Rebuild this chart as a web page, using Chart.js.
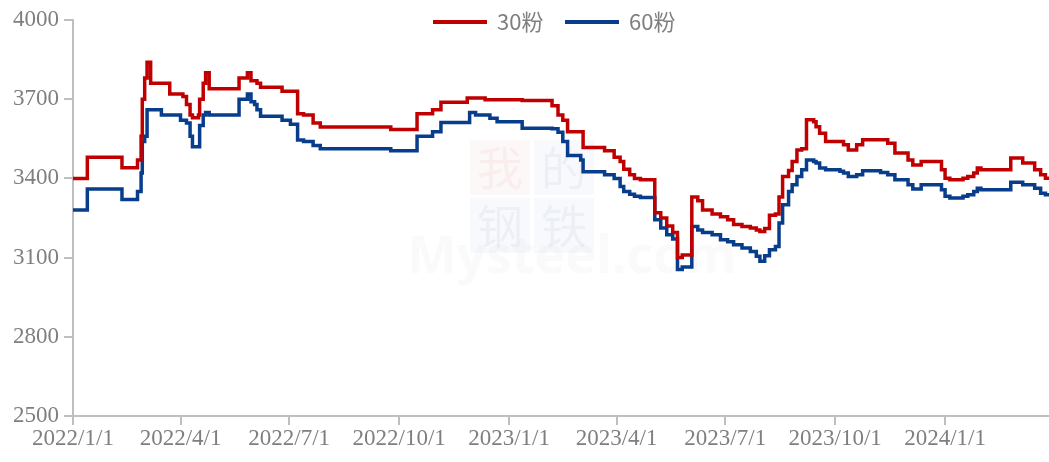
<!DOCTYPE html>
<html>
<head>
<meta charset="utf-8">
<script src="https://cdn.jsdelivr.net/npm/chart.js@4"></script>
<style>
  html, body { margin: 0; padding: 0; background: #fff; }
  #wrap { width: 1049px; height: 462px; position: relative; }
</style>
</head>
<body>
<div id="wrap"><canvas id="myChart"></canvas></div>
<script>
// dates where the price changes (value holds until next date)
const dates = [
  '2022-01-01','2022-01-13','2022-02-11','2022-02-24','2022-02-27','2022-02-28','2022-03-02','2022-03-04','2022-03-07','2022-03-16',
  '2022-03-23','2022-04-01','2022-04-03','2022-04-06','2022-04-09','2022-04-11','2022-04-16','2022-04-17','2022-04-20','2022-04-22',
  '2022-04-25','2022-05-20','2022-05-27','2022-05-30','2022-06-02','2022-06-04','2022-06-07','2022-06-25','2022-07-02','2022-07-08',
  '2022-07-13','2022-07-21','2022-07-27','2022-09-24','2022-10-16','2022-10-29','2022-11-05','2022-11-27','2022-11-29','2022-12-04',
  '2022-12-12','2022-12-16','2022-12-22','2023-01-12','2023-02-06','2023-02-11','2023-02-15','2023-02-19','2023-03-02','2023-03-04',
  '2023-03-22','2023-03-30','2023-04-04','2023-04-07','2023-04-12','2023-04-16','2023-04-21','2023-05-03','2023-05-08','2023-05-13',
  '2023-05-18','2023-05-22','2023-05-26','2023-06-03','2023-06-08','2023-06-12','2023-06-20','2023-06-27','2023-07-03','2023-07-08',
  '2023-07-15','2023-07-22','2023-07-27','2023-07-30','2023-08-03','2023-08-07','2023-08-12','2023-08-15','2023-08-18','2023-08-23',
  '2023-08-26','2023-08-30','2023-09-03','2023-09-07','2023-09-13','2023-09-15','2023-09-18','2023-09-23','2023-10-05','2023-10-08',
  '2023-10-12','2023-10-19','2023-10-24','2023-11-08','2023-11-14','2023-11-20','2023-12-01','2023-12-05','2023-12-12','2023-12-26',
  '2023-12-29','2024-01-01','2024-01-05','2024-01-16','2024-01-20','2024-01-25','2024-01-28','2024-01-31','2024-02-25','2024-03-06',
  '2024-03-16','2024-03-21','2024-03-25','2024-03-28'
]

const fen30 = [
  3400,3480,3440,3470,3560,3700,3780,3840,3760,3760,
  3720,3720,3710,3680,3640,3630,3640,3700,3760,3800,
  3740,3780,3800,3770,3770,3760,3745,3730,3730,3645,
  3640,3610,3595,3585,3645,3660,3688,3705,3705,3705,
  3698,3698,3698,3695,3675,3640,3620,3577,3577,3517,
  3505,3480,3464,3435,3414,3400,3395,3270,3250,3220,
  3195,3100,3110,3330,3315,3280,3265,3255,3243,3225,
  3218,3212,3205,3199,3210,3260,3265,3330,3407,3430,
  3464,3508,3512,3622,3615,3596,3571,3540,3540,3527,
  3508,3527,3546,3546,3533,3496,3470,3451,3464,3464,
  3433,3401,3395,3401,3407,3420,3439,3433,3477,3458,
  3433,3414,3401,3401
]

const fen60 = [
  3280,3360,3320,3350,3420,3540,3560,3660,3660,3640,
  3640,3620,3620,3610,3560,3520,3520,3600,3640,3650,
  3640,3700,3720,3690,3680,3660,3635,3620,3605,3545,
  3540,3525,3512,3505,3560,3577,3612,3612,3650,3640,
  3640,3628,3615,3590,3588,3575,3540,3487,3470,3425,
  3414,3400,3369,3350,3340,3332,3328,3243,3212,3187,
  3170,3055,3064,3218,3205,3195,3187,3168,3160,3149,
  3136,3123,3105,3086,3107,3130,3142,3231,3300,3350,
  3376,3407,3433,3470,3464,3458,3439,3433,3427,3420,
  3407,3414,3429,3422,3414,3395,3376,3360,3376,3376,
  3357,3332,3326,3332,3338,3350,3363,3357,3385,3376,
  3363,3344,3338,3338
]

const xTicks = ['2022-01-01','2022-04-01','2022-07-01','2022-10-01','2023-01-01','2023-04-01','2023-07-01','2023-10-01','2024-01-01']
const yTicks = [2500, 2800, 3100, 3400, 3700, 4000]

const DAY = 86400000
const base = Date.UTC(2022, 0, 1)
function dayOf(s){
  let p = s.split('-').map(Number)
  return (Date.UTC(p[0], p[1]-1, p[2]) - base) / DAY
}
function labelOf(d){
  let dt = new Date(base + d*DAY)
  return dt.getUTCFullYear() + '/' + (dt.getUTCMonth()+1) + '/' + dt.getUTCDate()
}

const xs = dates.map(dayOf)
const gray = '#7f7f7f'
const axisGray = '#bfbfbf'
const tickFont = { family: '"Liberation Serif", "Times New Roman", serif', size: 23 }

// legend drawn by hand, it sits on top of the plot area
const topLegend = {
  id: 'topLegend',
  afterDraw(chart){
    const ctx = chart.ctx
    const items = [
      { x: 433, color: chart.data.datasets[0].borderColor, text: chart.data.datasets[0].label },
      { x: 565, color: chart.data.datasets[1].borderColor, text: chart.data.datasets[1].label }
    ]
    ctx.save()
    ctx.font = '22px "Noto Sans CJK SC", "Noto Sans", sans-serif'
    ctx.textBaseline = 'middle'
    for(let it of items){
      ctx.strokeStyle = it.color
      ctx.lineWidth = 4
      ctx.beginPath()
      ctx.moveTo(it.x, 22)
      ctx.lineTo(it.x + 54, 22)
      ctx.stroke()
      ctx.fillStyle = gray
      ctx.fillText(it.text, it.x + 64, 22)
    }
    ctx.restore()
  }
}

// faint site watermark behind the lines
const watermark = {
  id: 'watermark',
  beforeDatasetsDraw(chart){
    const ctx = chart.ctx
    ctx.save()
    ctx.textAlign = 'center'
    ctx.textBaseline = 'middle'
    ctx.fillStyle = 'rgba(200, 60, 60, 0.035)'
    ctx.fillRect(470, 140, 60, 55)
    ctx.fillStyle = 'rgba(60, 90, 160, 0.035)'
    ctx.fillRect(534, 140, 60, 55)
    ctx.fillRect(470, 198, 60, 55)
    ctx.fillRect(534, 198, 60, 55)
    ctx.font = '46px "Noto Sans CJK SC", serif'
    ctx.fillStyle = 'rgba(200, 60, 60, 0.06)'
    ctx.fillText('我', 500, 168)
    ctx.fillStyle = 'rgba(60, 90, 160, 0.06)'
    ctx.fillText('的', 564, 168)
    ctx.fillText('钢', 500, 226)
    ctx.fillText('铁', 564, 226)
    ctx.font = 'bold 52px "Open Sans", sans-serif'
    ctx.fillStyle = 'rgba(150, 150, 150, 0.05)'
    ctx.fillText('Mysteel.com', 572, 258)
    ctx.restore()
  }
}

const ctx = document.getElementById('myChart').getContext('2d')
const myChart = new Chart(ctx, {
  type: 'line',
  data: {
    datasets: [{
      label: '30粉',
      data: xs.map((x, i) => ({ x: x, y: fen30[i] })),
      borderColor: '#C00000',
      borderWidth: 3.5,
      pointRadius: 0,
      stepped: 'before',
      fill: false
    },
    {
      label: '60粉',
      data: xs.map((x, i) => ({ x: x, y: fen60[i] })),
      borderColor: '#073D8B',
      borderWidth: 3.5,
      pointRadius: 0,
      stepped: 'before',
      fill: false
    }]
  },
  options: {
    responsive: true,
    maintainAspectRatio: false,
    animation: false,
    layout: { padding: { top: 20, right: 0, left: 0, bottom: 0 } },
    plugins: {
      legend: { display: false },
      tooltip: { enabled: false }
    },
    scales: {
      x: {
        type: 'linear',
        min: 0,
        max: dayOf('2024-03-28'),
        afterBuildTicks: s => { s.ticks = xTicks.map(d => ({ value: dayOf(d) })) },
        afterFit: s => { s.height = 46 },
        border: { color: axisGray, width: 2 },
        grid: { drawOnChartArea: false, tickLength: 9, color: axisGray, lineWidth: 2 },
        ticks: {
          color: gray,
          font: tickFont,
          padding: 0,
          maxRotation: 0,
          autoSkip: false,
          callback: v => labelOf(v)
        }
      },
      y: {
        min: 2500,
        max: 4000,
        afterBuildTicks: s => { s.ticks = yTicks.map(v => ({ value: v })) },
        afterFit: s => { s.width = 73 },
        border: { color: axisGray, width: 2 },
        grid: { drawOnChartArea: false, tickLength: 9, color: axisGray, lineWidth: 2 },
        ticks: {
          color: gray,
          font: tickFont,
          padding: 5,
          callback: v => String(v)
        }
      }
    }
  },
  plugins: [watermark, topLegend]
})
</script>
</body>
</html>
